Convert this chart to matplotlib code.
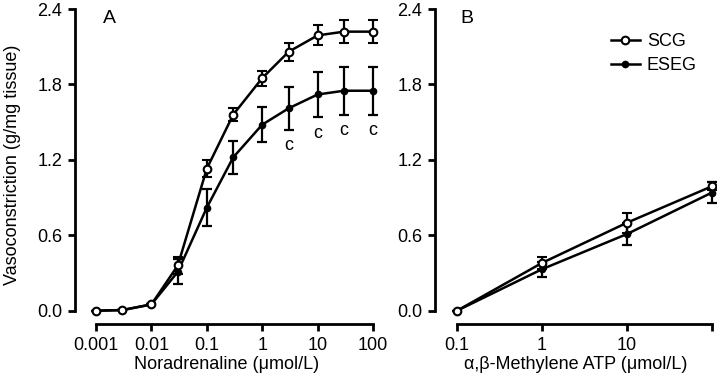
import matplotlib
matplotlib.use("Agg")
import matplotlib.pyplot as plt
from matplotlib.lines import Line2D
import numpy as np

plt.rcParams['font.family'] = ['Liberation Sans', 'DejaVu Sans']

# Panel A: noradrenaline
na_conc = [0.001, 0.003, 0.01, 0.03, 0.1, 0.3, 1, 3, 10, 30, 100]
scg_a = [0.0, 0.005, 0.05, 0.36, 1.13, 1.56, 1.85, 2.06, 2.19, 2.22, 2.22]
scg_a_err = [0.0, 0.0, 0.0, 0.07, 0.07, 0.05, 0.06, 0.07, 0.08, 0.09, 0.09]
eseg_a = [0.0, 0.005, 0.05, 0.31, 0.82, 1.22, 1.48, 1.61, 1.72, 1.75, 1.75]
eseg_a_err = [0.0, 0.0, 0.0, 0.10, 0.15, 0.13, 0.14, 0.17, 0.18, 0.19, 0.19]
sig_conc = [3, 10, 30, 100]
sig_label = "c"

# Panel B: alpha,beta-methylene ATP
atp_conc = [0.1, 1, 10, 100]
scg_b = [0.0, 0.38, 0.70, 0.99]
scg_b_err = [0.0, 0.045, 0.08, 0.03]
eseg_b = [0.0, 0.33, 0.61, 0.94]
eseg_b_err = [0.0, 0.06, 0.09, 0.08]

a_ticks = [0.001, 0.01, 0.1, 1, 10, 100]
a_ticklabels = ["0.001", "0.01", "0.1", "1", "10", "100"]
b_ticks = [0.1, 1, 10, 100]
b_ticklabels = ["0.1", "1", "10", ""]
y_ticks = [0.0, 0.6, 1.2, 1.8, 2.4]

W, H = 718, 383
fig = plt.figure(figsize=(W / 100, H / 100), dpi=100)

FS = 13
ylo = (310.7 - 324) / 125.7
yhi = (310.7 - 5) / 125.7

def px_ax(x0, x1):
    return [x0 / W, 1 - 324 / H, (x1 - x0) / W, (324 - 5) / H]

axA = fig.add_axes(px_ax(75, 379))
axB = fig.add_axes(px_ax(435, 716))

def style(ax, xticks, xlabels, xbounds):
    ax.set_xscale('log')
    ax.set_ylim(ylo, yhi)
    ax.spines['top'].set_visible(False)
    ax.spines['right'].set_visible(False)
    ax.spines['left'].set_bounds(0, 2.4)
    ax.spines['bottom'].set_bounds(*xbounds)
    for s in ('left', 'bottom'):
        ax.spines[s].set_linewidth(2.0)
    ax.set_yticks(y_ticks)
    ax.set_yticklabels([f"{v:.1f}" for v in y_ticks], fontsize=FS)
    ax.set_xticks(xticks)
    ax.set_xticklabels(xlabels, fontsize=FS)
    ax.xaxis.set_minor_locator(matplotlib.ticker.NullLocator())
    ax.tick_params(axis='both', direction='out', length=5, width=2.0, pad=4)

def draw(ax, x, y1, e1, y2, e2):
    ax.errorbar(x, y2, yerr=e2, color='black', lw=1.8, marker='o', ms=4.5,
                mfc='black', mec='black', capsize=3.5, elinewidth=1.6, capthick=1.6,
                zorder=3)
    ax.errorbar(x, y1, yerr=e1, color='black', lw=1.8, marker='o', ms=5.5,
                mfc='white', mec='black', mew=1.5, capsize=3.5, elinewidth=1.6,
                capthick=1.6, zorder=4)

# Panel A
style(axA, a_ticks, a_ticklabels, (0.001, 100))
axA.set_xlim(10 ** (-3 - 21 / 55.4), 10 ** (2 + 6 / 55.4))
draw(axA, na_conc, scg_a, scg_a_err, eseg_a, eseg_a_err)
for xc in sig_conc:
    i = na_conc.index(xc)
    axA.text(xc, eseg_a[i] - eseg_a_err[i] - 0.06, sig_label, ha='center', va='top', fontsize=FS)
axA.set_xlabel("Noradrenaline (μmol/L)", fontsize=FS, labelpad=2)
axA.set_ylabel("Vasoconstriction (g/mg tissue)", fontsize=FS, labelpad=12)
axA.text(0.092, 0.985, "A", transform=axA.transAxes, fontsize=FS + 1, va='top', ha='left')

# Panel B
style(axB, b_ticks, b_ticklabels, (0.1, 100))
axB.set_xlim(10 ** (-1 - 22 / 85), 10 ** (2 + 4 / 85))
draw(axB, atp_conc, scg_b, scg_b_err, eseg_b, eseg_b_err)
axB.set_xlabel("α,β-Methylene ATP (μmol/L)", fontsize=FS, labelpad=2)
axB.text(0.09, 0.985, "B", transform=axB.transAxes, fontsize=FS + 1, va='top', ha='left')

handles = [
    Line2D([], [], color='black', lw=1.8, marker='o', ms=5.5, mfc='white', mec='black', mew=1.5),
    Line2D([], [], color='black', lw=1.8, marker='o', ms=4.5, mfc='black', mec='black'),
]
axB.legend(handles, ['SCG', 'ESEG'], loc='upper left',
           bbox_to_anchor=(0.6, 0.935), frameon=False, fontsize=FS,
           handlelength=1.6, handletextpad=0.4, labelspacing=0.4, borderaxespad=0)

fig.savefig("out.png", dpi=100)
